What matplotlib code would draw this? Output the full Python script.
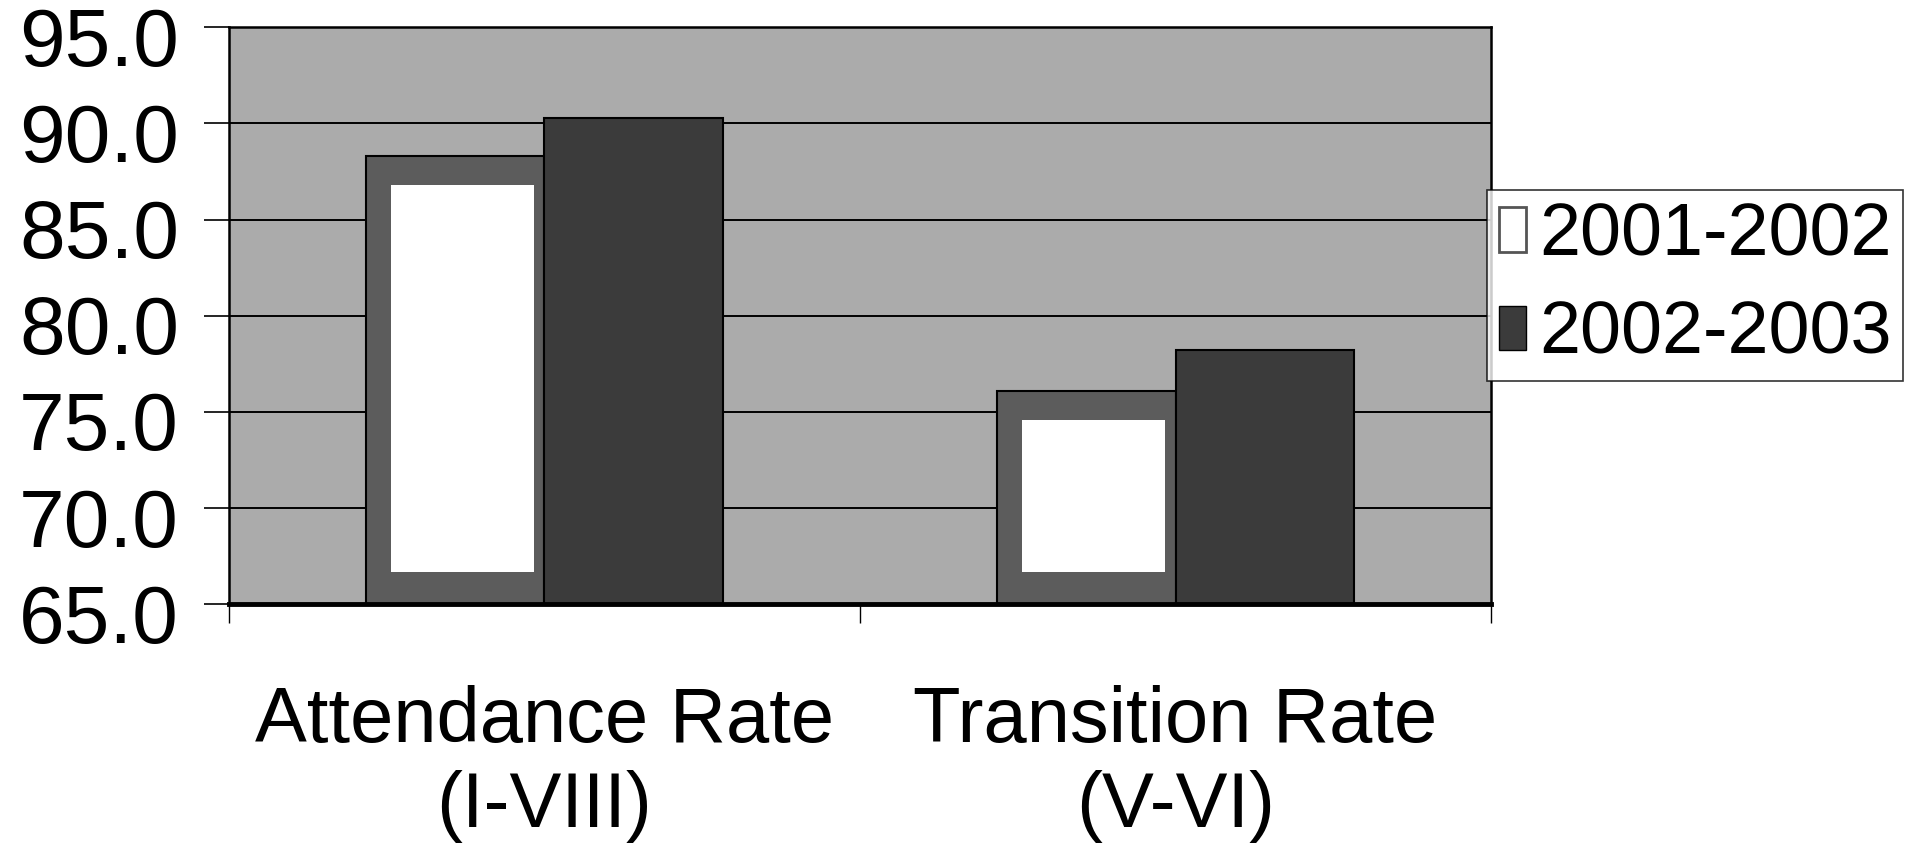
import matplotlib
matplotlib.use('Agg')
from matplotlib import pyplot as plt
from matplotlib.patches import Patch
import matplotlib.transforms as mtransforms
import numpy as np

categories = ['Attendance Rate\n(I-VIII)', 'Transition Rate\n(V-VI)']
series = ['2001-2002', '2002-2003']
vals_2001 = [88.3, 76.1]
vals_2002 = [90.3, 78.2]
yticks = [65.0, 70.0, 75.0, 80.0, 85.0, 90.0, 95.0]

plt.rcParams['font.family'] = ['Liberation Sans', 'DejaVu Sans']

fig = plt.figure(figsize=(19.24, 8.51), dpi=100)
ax = fig.add_axes([0.119, 0.290, 0.656, 0.678])
ax.set_facecolor('#ababab')

x = np.arange(len(categories))
w = 0.283
base = 65.0

# gridlines behind bars
ax.set_axisbelow(True)
ax.yaxis.grid(True, color='black', linewidth=1.4)

# 2001-2002 : textured frame with white centre
ax.bar(x - w, np.array(vals_2001) - base, bottom=base, width=w, align='edge',
       color='#5c5c5c', edgecolor='black', linewidth=1.5)
ax.bar(x - w + 0.039, np.array(vals_2001) - base - 1.5 - 1.7, bottom=base + 1.7,
       width=w - 0.039 - 0.016, align='edge', color='white', linewidth=0)
# 2002-2003 : dark bar
ax.bar(x, np.array(vals_2002) - base, bottom=base, width=w, align='edge',
       color='#3b3b3b', edgecolor='black', linewidth=1.5)

ax.set_xlim(-0.5, 1.5)
ax.set_ylim(65, 95)
ax.set_yticks(yticks)
ax.set_yticklabels(['%.1f' % t for t in yticks], fontsize=59)
ax.tick_params(axis='y', length=18, width=1.2, pad=18)
shift = mtransforms.ScaledTranslation(0, -0.09, fig.dpi_scale_trans)
for lab in ax.get_yticklabels():
    lab.set_transform(lab.get_transform() + shift)

ax.set_xticks(x)
ax.set_xticklabels(categories, fontsize=56, linespacing=1.22)
ax.tick_params(axis='x', which='major', length=0, pad=58)
ax.set_xticks([-0.5, 0.5, 1.5], minor=True)
ax.tick_params(axis='x', which='minor', length=14, width=1.0, direction='out')

for side in ['left', 'top', 'right']:
    ax.spines[side].set_linewidth(1.8)
ax.spines['bottom'].set_linewidth(3.5)

handles = [Patch(facecolor='white', edgecolor='#555555', linewidth=2),
           Patch(facecolor='#3b3b3b', edgecolor='black', linewidth=1)]
leg = fig.legend(handles, series, loc='upper left', bbox_to_anchor=(0.773, 0.777),
                 fontsize=53, frameon=True, fancybox=False, edgecolor='black',
                 handlelength=0.36, handleheight=0.55, handletextpad=0.18,
                 labelspacing=0.4, borderpad=0.16, borderaxespad=0)
leg.get_frame().set_linewidth(1.2)

fig.savefig('out.png', dpi=100)
